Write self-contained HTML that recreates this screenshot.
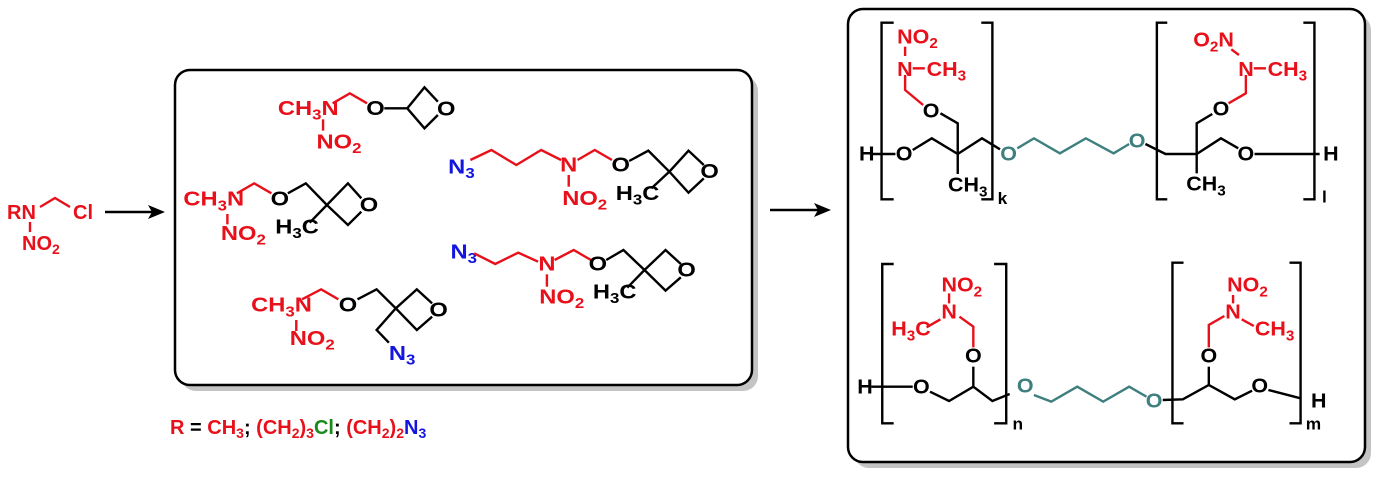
<!DOCTYPE html>
<html><head><meta charset="utf-8"><style>
html,body{margin:0;padding:0;background:#fff;}
svg{display:block;}
text{font-family:"Liberation Sans",Arial,sans-serif;font-weight:bold;}
.k{stroke:#000;fill:none;stroke-width:2.4;vector-effect:non-scaling-stroke;}
.r{stroke:#e8101a;fill:none;stroke-width:2.4;vector-effect:non-scaling-stroke;}
.t{stroke:#3f7f7f;fill:none;stroke-width:2.4;vector-effect:non-scaling-stroke;}
.R{fill:#e8101a}.B{fill:#1515e0}.T{fill:#3f7f7f}.G{fill:#1a8a1a}.K{fill:#000}
</style></head><body>
<svg width="1383" height="487" viewBox="0 0 1383 487" xmlns="http://www.w3.org/2000/svg">
<text x="7" y="219" font-size="20" class="R">RN</text>
<polyline class="r" points="40,207 55,198 70,207"/>
<text x="73" y="219" font-size="20" class="R">Cl</text>
<line class="r" x1="30" y1="222" x2="30" y2="232"/>
<text x="22" y="250" font-size="20" class="R">NO<tspan font-size="14" dy="4">2</tspan></text>
<line x1="105" y1="212" x2="152" y2="212" stroke="#000" stroke-width="2.5"/>
<polygon points="165,212 148,205 152,212 148,219" fill="#000"/>
<line x1="770" y1="210" x2="818" y2="210" stroke="#000" stroke-width="2.5"/>
<polygon points="831,210 814,203 818,210 814,217" fill="#000"/>
<text x="170" y="434" font-size="20"><tspan class="R">R </tspan><tspan class="K">= </tspan><tspan class="R">CH</tspan><tspan class="R" font-size="14" dy="4">3</tspan><tspan class="K" dy="-4">; </tspan><tspan class="R">(CH</tspan><tspan class="R" font-size="14" dy="4">2</tspan><tspan class="R" dy="-4">)</tspan><tspan class="R" font-size="14" dy="4">3</tspan><tspan class="G" dy="-4">Cl</tspan><tspan class="K">; </tspan><tspan class="R">(CH</tspan><tspan class="R" font-size="14" dy="4">2</tspan><tspan class="R" dy="-4">)</tspan><tspan class="R" font-size="14" dy="4">2</tspan><tspan class="B" dy="-4">N</tspan><tspan class="B" font-size="14" dy="4">3</tspan></text>

<rect x="181" y="76" width="577" height="315" rx="15" fill="#c4c4c4"/>
<rect x="175" y="70" width="577" height="315" rx="15" fill="#fff" stroke="#000" stroke-width="2.5"/>
<svg x="170" y="60" width="600" height="340" viewBox="0 0 1568 1020" preserveAspectRatio="none">
<g font-size="62">
<text x="282" y="165" class="R">CH<tspan font-size="44" dy="14">3</tspan><tspan dy="-14">N</tspan></text>
<polyline class="r" points="425,130 470,100 515,130"/>
<text x="537" y="165" text-anchor="middle" class="K">O</text>
<polyline class="k" points="560,145 620,145"/>
<polyline class="k" points="700,125 665,82 620,145 665,205 700,165"/>
<text x="722" y="167" text-anchor="middle" class="K">O</text>
<line class="r" x1="400" y1="178" x2="400" y2="212"/>
<text x="383" y="265" class="R">NO<tspan font-size="44" dy="14">2</tspan></text>
<text x="35" y="437" class="R">CH<tspan font-size="44" dy="14">3</tspan><tspan dy="-14">N</tspan></text>
<polyline class="r" points="175,400 220,370 265,400"/>
<text x="287" y="437" text-anchor="middle" class="K">O</text>
<polyline class="k" points="308,400 355,370 410,435"/>
<polyline class="k" points="500,415 465,370 410,435 465,495 500,455"/>
<text x="520" y="455" text-anchor="middle" class="K">O</text>
<line class="k" x1="410" y1="435" x2="365" y2="488"/>
<text x="275" y="520" class="K">H<tspan font-size="44" dy="14">3</tspan><tspan dy="-14">C</tspan></text>
<line class="r" x1="150" y1="462" x2="150" y2="493"/>
<text x="133" y="540" class="R">NO<tspan font-size="44" dy="14">2</tspan></text>
<text x="212" y="755" class="R">CH<tspan font-size="44" dy="14">3</tspan><tspan dy="-14">N</tspan></text>
<polyline class="r" points="345,718 395,688 440,718"/>
<text x="465" y="755" text-anchor="middle" class="K">O</text>
<polyline class="k" points="490,718 540,688 590,745"/>
<polyline class="k" points="685,730 645,688 590,745 645,810 685,770"/>
<text x="702" y="770" text-anchor="middle" class="K">O</text>
<polyline class="k" points="590,745 540,810 572,848"/>
<text x="572" y="900" class="B">N<tspan font-size="44" dy="14">3</tspan></text>
<line class="r" x1="330" y1="780" x2="330" y2="813"/>
<text x="313" y="855" class="R">NO<tspan font-size="44" dy="14">2</tspan></text>
<text x="727" y="340" class="B">N<tspan font-size="44" dy="14">3</tspan></text>
<polyline class="r" points="785,300 840,270 905,315 970,270 1022,300"/>
<text x="1042" y="335" text-anchor="middle" class="R">N</text>
<polyline class="r" points="1065,300 1110,270 1155,300"/>
<text x="1178" y="335" text-anchor="middle" class="K">O</text>
<polyline class="k" points="1200,303 1250,272 1305,335"/>
<polyline class="k" points="1395,315 1355,272 1305,335 1355,398 1395,355"/>
<text x="1410" y="354" text-anchor="middle" class="K">O</text>
<line class="k" x1="1305" y1="335" x2="1258" y2="385"/>
<text x="1165" y="420" class="K">H<tspan font-size="44" dy="14">3</tspan><tspan dy="-14">C</tspan></text>
<line class="r" x1="1042" y1="345" x2="1042" y2="380"/>
<text x="1025" y="435" class="R">NO<tspan font-size="44" dy="14">2</tspan></text>
<text x="733" y="595" class="B">N<tspan font-size="44" dy="14">3</tspan></text>
<polyline class="r" points="795,580 850,612 910,578 962,605"/>
<text x="985" y="632" text-anchor="middle" class="R">N</text>
<polyline class="r" points="1005,600 1055,570 1100,600"/>
<text x="1118" y="632" text-anchor="middle" class="K">O</text>
<polyline class="k" points="1140,600 1185,570 1240,630"/>
<polyline class="k" points="1335,612 1295,570 1240,630 1295,692 1335,652"/>
<text x="1350" y="650" text-anchor="middle" class="K">O</text>
<line class="k" x1="1240" y1="630" x2="1195" y2="683"/>
<text x="1105" y="715" class="K">H<tspan font-size="44" dy="14">3</tspan><tspan dy="-14">C</tspan></text>
<line class="r" x1="985" y1="643" x2="985" y2="680"/>
<text x="965" y="730" class="R">NO<tspan font-size="44" dy="14">2</tspan></text>
</g>
</svg>

<rect x="854" y="15" width="517" height="453" rx="15" fill="#c4c4c4"/>
<rect x="848" y="9" width="517" height="453" rx="15" fill="#fff" stroke="#000" stroke-width="2.5"/>
<svg x="840" y="0" width="543" height="240" viewBox="0 0 1568 720" preserveAspectRatio="none">
<g font-size="62">
<text x="55" y="482" class="K">H</text>
<line class="k" x1="95" y1="462" x2="160" y2="462"/>
<text x="185" y="482" text-anchor="middle" class="K">O</text>
<polyline class="k" points="210,450 265,415 340,462 410,415 462,448"/>
<text x="487" y="482" text-anchor="middle" class="T">O</text>
<polyline class="t" points="512,445 560,415 635,460 710,415 790,460 835,432"/>
<text x="858" y="442" text-anchor="middle" class="T">O</text>
<polyline class="k" points="882,432 940,462 1030,462 1100,415 1150,445"/>
<text x="1172" y="482" text-anchor="middle" class="K">O</text>
<line class="k" x1="1197" y1="462" x2="1385" y2="462"/>
<text x="1395" y="482" class="K">H</text>
<polyline class="k" points="340,462 340,370 290,340"/>
<text x="263" y="352" text-anchor="middle" class="K">O</text>
<polyline class="r" points="240,315 188,270 188,225"/>
<text x="165" y="228" class="R">N</text>
<line class="r" x1="210" y1="205" x2="245" y2="205"/>
<text x="250" y="228" class="R">CH<tspan font-size="44" dy="14">3</tspan></text>
<line class="r" x1="188" y1="140" x2="188" y2="168"/>
<text x="165" y="130" class="R">NO<tspan font-size="44" dy="14">2</tspan></text>
<line class="k" x1="340" y1="462" x2="340" y2="522"/>
<text x="312" y="575" class="K">CH<tspan font-size="44" dy="14">3</tspan></text>
<polyline class="k" points="155,68 120,68 120,598 155,598"/>
<polyline class="k" points="408,68 440,68 440,598 408,598"/>
<text x="455" y="612" font-size="50" class="K">k</text>
<polyline class="k" points="1030,462 1030,370 1075,342"/>
<text x="1100" y="347" text-anchor="middle" class="K">O</text>
<polyline class="r" points="1122,310 1172,280 1172,225"/>
<text x="1150" y="228" class="R">N</text>
<line class="r" x1="1195" y1="205" x2="1230" y2="205"/>
<text x="1235" y="228" class="R">CH<tspan font-size="44" dy="14">3</tspan></text>
<line class="r" x1="1130" y1="148" x2="1152" y2="165"/>
<text x="1020" y="140" class="R">O<tspan font-size="44" dy="14">2</tspan><tspan dy="-14">N</tspan></text>
<line class="k" x1="1030" y1="462" x2="1030" y2="520"/>
<text x="1000" y="572" class="K">CH<tspan font-size="44" dy="14">3</tspan></text>
<polyline class="k" points="945,68 915,68 915,598 945,598"/>
<polyline class="k" points="1338,68 1370,68 1370,598 1338,598"/>
<text x="1392" y="607" font-size="50" class="K">l</text>
</g>
</svg>
<svg x="840" y="240" width="543" height="247" viewBox="0 0 1568 741" preserveAspectRatio="none">
<g font-size="62">
<text x="50" y="460" class="K">H</text>
<line class="k" x1="90" y1="440" x2="210" y2="440"/>
<text x="235" y="460" text-anchor="middle" class="K">O</text>
<polyline class="k" points="260,455 315,483 385,440 440,483 490,462"/>
<text x="535" y="458" text-anchor="middle" class="T">O</text>
<polyline class="t" points="560,465 610,485 685,440 760,485 835,440 885,470"/>
<text x="907" y="502" text-anchor="middle" class="T">O</text>
<polyline class="k" points="932,480 990,478 1065,435 1140,478 1190,452"/>
<text x="1212" y="457" text-anchor="middle" class="K">O</text>
<line class="k" x1="1237" y1="450" x2="1330" y2="475"/>
<text x="1360" y="502" class="K">H</text>
<line class="k" x1="385" y1="440" x2="385" y2="380"/>
<text x="385" y="367" text-anchor="middle" class="K">O</text>
<polyline class="r" points="385,322 385,260 345,230"/>
<text x="315" y="235" text-anchor="middle" class="R">N</text>
<line class="r" x1="250" y1="262" x2="290" y2="238"/>
<text x="148" y="287" class="R">H<tspan font-size="44" dy="14">3</tspan><tspan dy="-14">C</tspan></text>
<line class="r" x1="315" y1="160" x2="315" y2="190"/>
<text x="293" y="155" class="R">NO<tspan font-size="44" dy="14">2</tspan></text>
<polyline class="k" points="155,72 122,72 122,550 155,550"/>
<polyline class="k" points="445,72 480,72 480,550 445,550"/>
<text x="498" y="568" font-size="50" class="K">n</text>
<line class="k" x1="1065" y1="435" x2="1065" y2="380"/>
<text x="1065" y="367" text-anchor="middle" class="K">O</text>
<polyline class="r" points="1065,322 1065,255 1110,228"/>
<text x="1135" y="235" text-anchor="middle" class="R">N</text>
<line class="r" x1="1160" y1="238" x2="1195" y2="258"/>
<text x="1198" y="287" class="R">CH<tspan font-size="44" dy="14">3</tspan></text>
<line class="r" x1="1135" y1="165" x2="1135" y2="190"/>
<text x="1118" y="155" class="R">NO<tspan font-size="44" dy="14">2</tspan></text>
<polyline class="k" points="992,68 960,68 960,550 992,550"/>
<polyline class="k" points="1298,68 1330,68 1330,550 1298,550"/>
<text x="1345" y="568" font-size="50" class="K">m</text>
</g>
</svg>
</svg>
</body></html>
